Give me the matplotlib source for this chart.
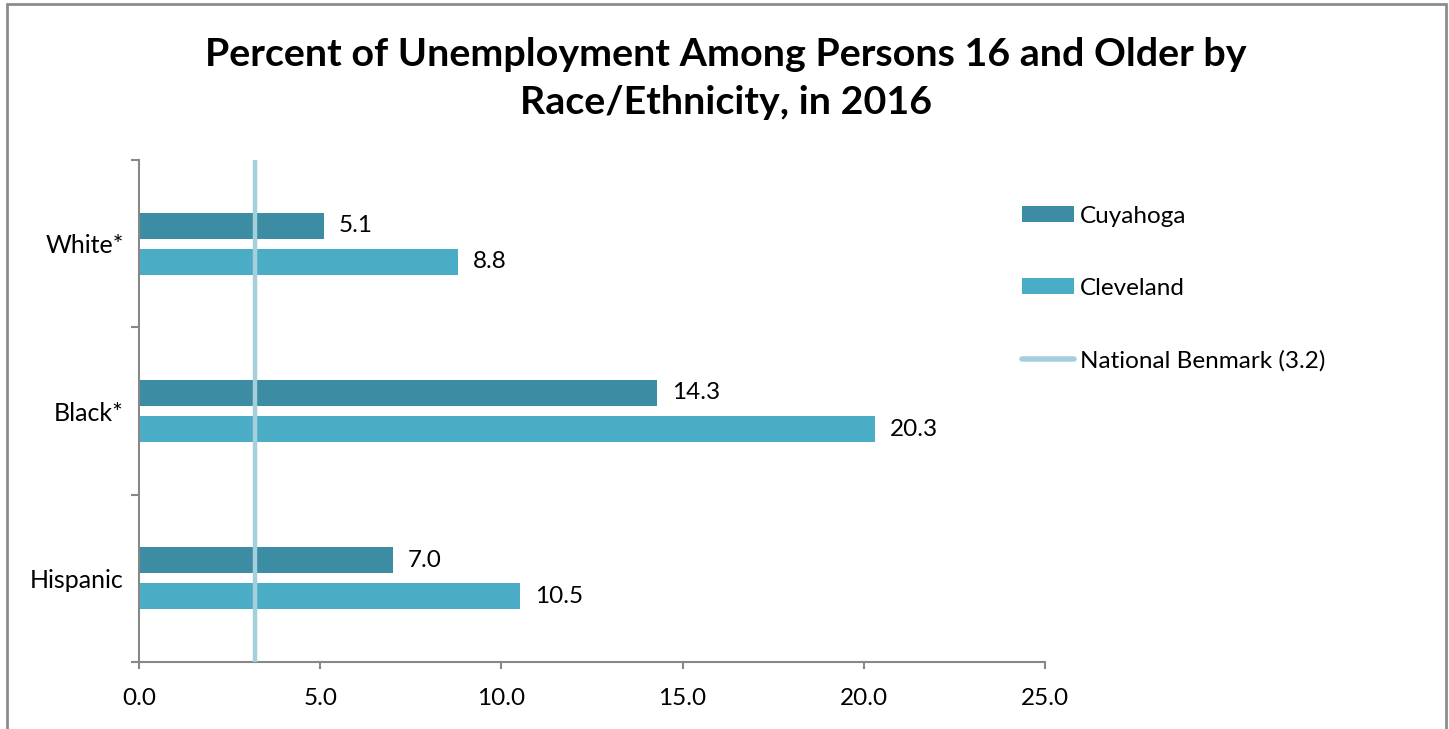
import matplotlib.pyplot as plt
import numpy as np
from matplotlib.lines import Line2D
from matplotlib.patches import Patch, Rectangle

plt.rcParams['font.family'] = ['Lato', 'DejaVu Sans']

groups = ["White*", "Black*", "Hispanic"]
cuyahoga = [5.1, 14.3, 7.0]
cleveland = [8.8, 20.3, 10.5]
benchmark = 3.2

dark_teal = "#3c8ca3"
light_teal = "#4bacc6"
bench_color = "#a6cfdc"
axis_gray = "#888888"
fs = 17.5

fig = plt.figure(figsize=(14.49, 7.29), dpi=100)
ax = fig.add_axes([0.0959, 0.0919, 0.6253, 0.6886])

y = np.arange(len(groups))
h = 0.156
off = 0.108
ax.barh(y - off, cuyahoga, height=h, color=dark_teal, label="Cuyahoga")
ax.barh(y + off, cleveland, height=h, color=light_teal, label="Cleveland")
ax.axvline(benchmark, color=bench_color, lw=3.2, zorder=3)

for yi, v in zip(y - off, cuyahoga):
    ax.text(v + 0.42, yi, f"{v:.1f}", va="center", ha="left", fontsize=fs)
for yi, v in zip(y + off, cleveland):
    ax.text(v + 0.42, yi, f"{v:.1f}", va="center", ha="left", fontsize=fs)

ax.set_xlim(0, 25)
ax.set_ylim(len(groups) - 0.5, -0.5)
ax.set_xticks(np.arange(0, 26, 5))
ax.set_xticklabels([f"{t:.1f}" for t in np.arange(0, 26, 5)], fontsize=fs)

# group labels sit between the boundary ticks
ax.set_yticks(np.arange(-0.5, len(groups), 1.0))
ax.set_yticklabels([])
ax.set_yticks(y, minor=True)
ax.set_yticklabels(groups, minor=True, fontsize=fs + 0.5)
ax.tick_params(axis="y", which="minor", length=0, pad=11)
ax.tick_params(axis="y", which="major", length=6, color=axis_gray, width=1.5)
ax.tick_params(axis="x", length=5, color=axis_gray, width=1.5, pad=14)

for s in ["top", "right"]:
    ax.spines[s].set_visible(False)
for s in ["left", "bottom"]:
    ax.spines[s].set_color(axis_gray)
    ax.spines[s].set_linewidth(1.5)

handles = [
    Patch(facecolor=dark_teal, label="Cuyahoga"),
    Patch(facecolor=light_teal, label="Cleveland"),
    Line2D([0], [0], color=bench_color, lw=4, solid_capstyle="round",
           label="National Benmark (3.2)"),
]
fig.legend(handles=handles, loc="upper left", bbox_to_anchor=(0.690, 0.748),
           frameon=False, fontsize=fs, handlelength=2.15, handleheight=0.6,
           handletextpad=0.25, labelspacing=2.1)

fig.text(0.501, 0.892, "Percent of Unemployment Among Persons 16 and Older by\nRace/Ethnicity, in 2016",
         ha="center", va="center", fontsize=28.4, fontweight="bold", linespacing=1.45)

# chart frame
fig.patches.append(Rectangle((0.0045, -0.05), 0.9935, 1.044, transform=fig.transFigure,
                             fill=False, edgecolor="#8c8c8c", lw=2))

fig.savefig("out.png", dpi=100)
